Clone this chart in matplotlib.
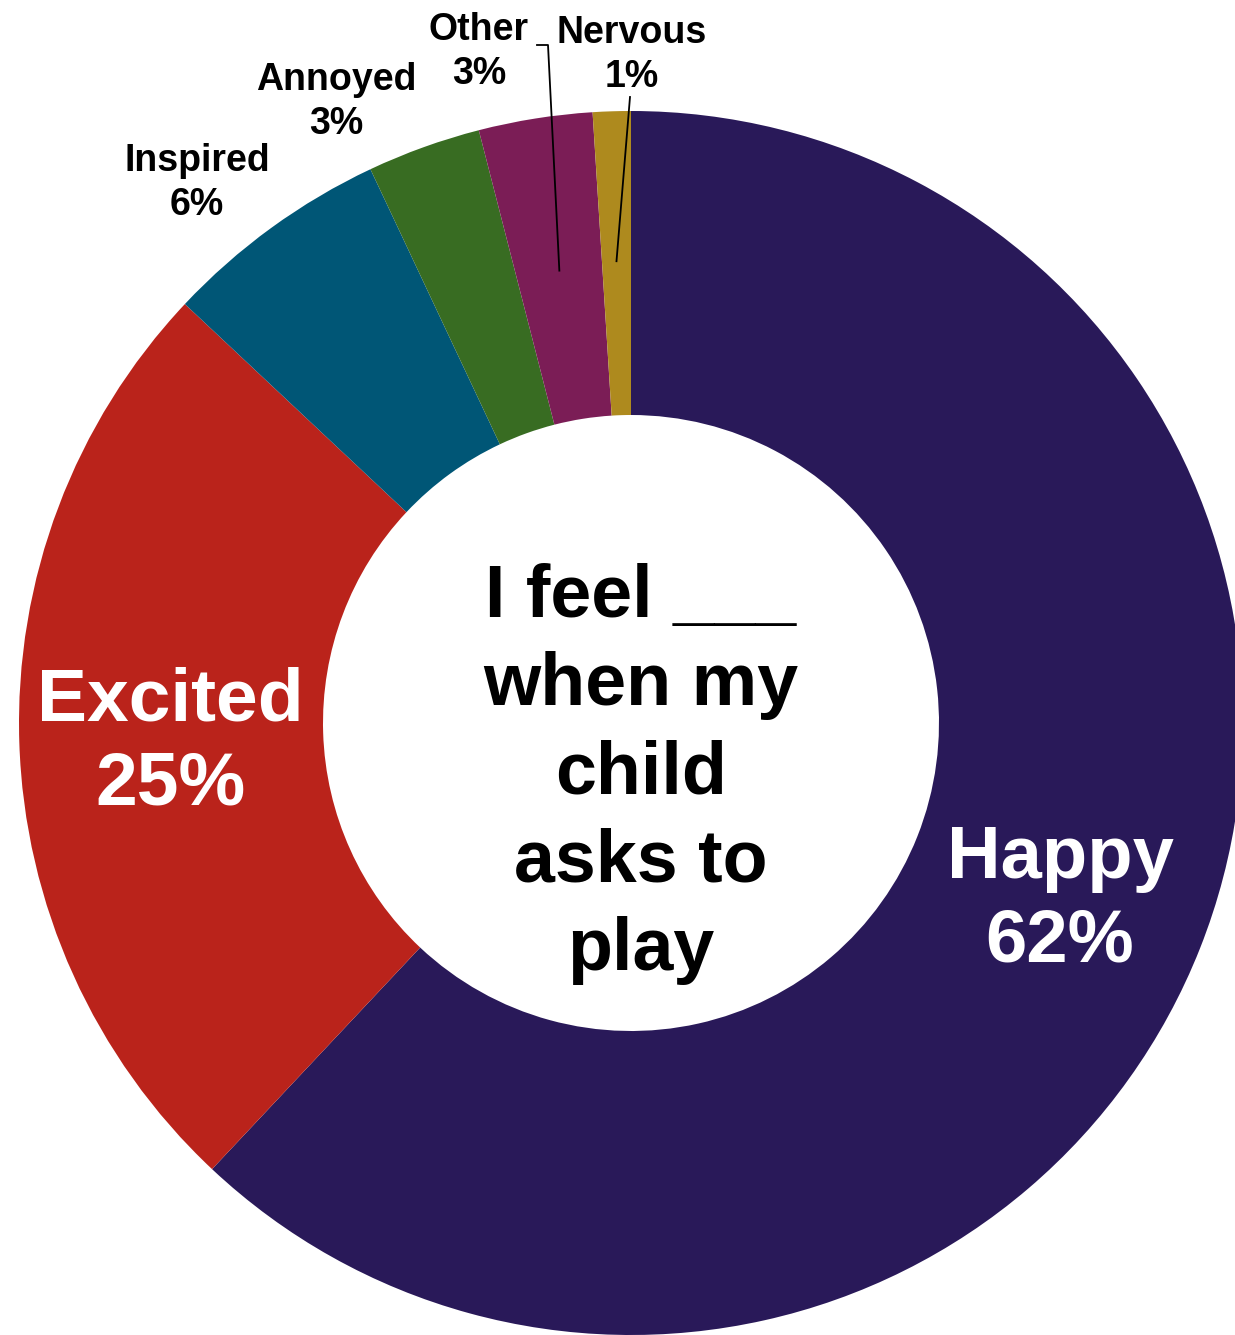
import numpy as np
import matplotlib
matplotlib.use('Agg')
from matplotlib import pyplot as plt

# dados do grafico
categorias = ['Happy', 'Excited', 'Inspired', 'Annoyed', 'Other', 'Nervous']
valores = [62, 25, 6, 3, 3, 1]
cores = ['#291959', '#BA231B', '#005676', '#386C22', '#7B1D56', '#AE8A1E']

plt.rcParams['font.family'] = ['Liberation Sans', 'DejaVu Sans']
plt.rcParams['font.weight'] = 'bold'

W, H = 1235, 1335
fig = plt.figure(figsize=(W / 100, H / 100), dpi=100)
ax = fig.add_axes([0, 0, 1, 1])
ax.set_xlim(0, W)
ax.set_ylim(0, H)
ax.set_aspect('equal')
ax.axis('off')

cx, cy = 631, H - 723
raio = 612
largura = 304

wedges, _ = ax.pie(valores, colors=cores, startangle=90, counterclock=False,
                   center=(cx, cy), radius=raio,
                   wedgeprops=dict(width=largura, linewidth=0))
ax.set_xlim(0, W)
ax.set_ylim(0, H)

def txt(i):
    return f'{categorias[i]}\n{valores[i]}%'

# rotulos grandes dentro das fatias
ax.text(1060, H - 900, txt(0), color='white', fontsize=53.5, ha='center', va='center',
        linespacing=1.27)
ax.text(170, H - 743, txt(1), color='white', fontsize=54, ha='center', va='center',
        linespacing=1.27)

# rotulos pequenos fora
pos_fora = {2: (197, 183), 3: (336, 102), 4: (479, 52), 5: (632, 55)}
for i, (x, y) in pos_fora.items():
    ax.text(x, H - y, txt(i), color='black', fontsize=27, ha='center', va='center',
            linespacing=1.27)

# linhas de chamada para Other e Nervous
def ponto_fatia(i, r):
    w = wedges[i]
    ang = np.deg2rad((w.theta1 + w.theta2) / 2)
    return cx + r * np.cos(ang), cy + r * np.sin(ang)

x0, y0 = ponto_fatia(4, 458)
ax.plot([x0, 548, 537], [y0, H - 45, H - 45], color='black', lw=1.3)
x0, y0 = ponto_fatia(5, 462)
ax.plot([x0, 630], [y0, H - 97], color='black', lw=1.3)

# texto central
ax.text(cx + 10, H - 774, 'I feel ___\nwhen my\nchild\nasks to\nplay', color='black',
        fontsize=53, ha='center', va='center', linespacing=1.36)

fig.savefig('out.png', dpi=100)
